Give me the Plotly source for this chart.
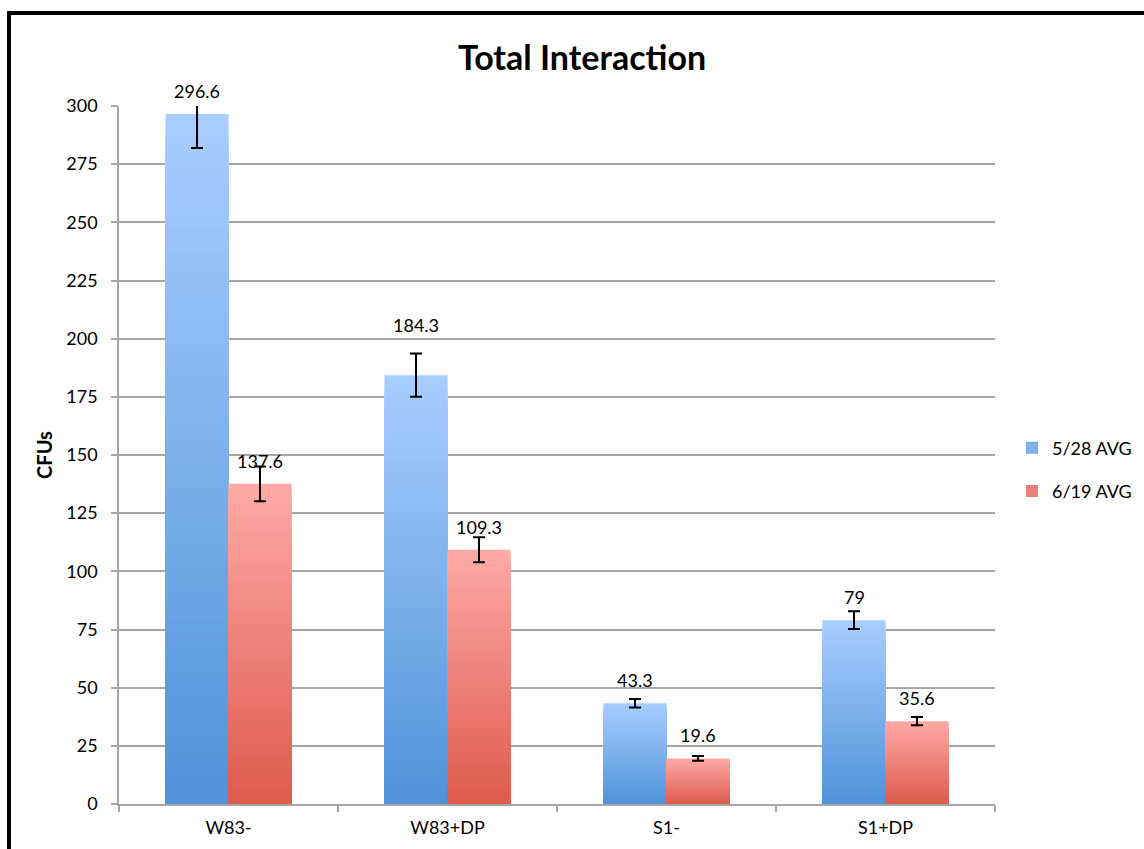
import plotly.graph_objects as go

# ---- data -------------------------------------------------------------
categories = ["W83-", "W83+DP", "S1-", "S1+DP"]
series_names = ["5/28 AVG", "6/19 AVG"]
avg_0528 = [296.6, 184.3, 43.3, 79.0]
avg_0619 = [137.6, 109.3, 19.6, 35.6]
err_0528 = [14.6, 9.3, 1.8, 3.8]
err_0619 = [7.5, 5.4, 1.0, 1.8]
labels_0528 = ["296.6", "184.3", "43.3", "79"]
labels_0619 = ["137.6", "109.3", "19.6", "35.6"]
y_ticks = [0, 25, 50, 75, 100, 125, 150, 175, 200, 225, 250, 275, 300]

# ---- styling ----------------------------------------------------------
FONT = "Lato"
W, H = 1144, 849
M_L, M_R, M_T, M_B = 119, 149, 106, 45
PLOT_W, PLOT_H = W - M_L - M_R, H - M_T - M_B

# vertical gradients (bottom colour, top colour)
gradients = [((79, 147, 217), (169, 205, 255)),
             ((221, 90, 78), (255, 170, 166))]
N_STEPS = 60
# extra lift (px) for individual value labels
label_lift = [[0, 27, 0, 0], [0, 0, 0, 0]]


def mix(c0, c1, t):
    return "rgb({},{},{})".format(*[round(a + (b - a) * t) for a, b in zip(c0, c1)])


def px_x(p):
    return (p - M_L) / PLOT_W


def px_y(p):
    return (M_T + PLOT_H - p) / PLOT_H


fig = go.Figure()

series = [(avg_0528, err_0528, labels_0528), (avg_0619, err_0619, labels_0619)]

for s, (vals, errs, labs) in enumerate(series):
    bottom, top = gradients[s]
    group = f"g{s}"
    # gradient body: nested bars from full height downwards, each one
    # a little darker, so the visible bands form a vertical gradient
    for j in range(N_STEPS):
        frac = (N_STEPS - j) / N_STEPS
        color = mix(bottom, top, (N_STEPS - j - 0.5) / N_STEPS)
        fig.add_trace(go.Bar(
            x=categories,
            y=[v * frac for v in vals],
            offsetgroup=group,
            legendgroup=group,
            name=series_names[s],
            showlegend=(j == N_STEPS // 2),
            marker=dict(color=color, line=dict(width=0)),
            hoverinfo="skip",
        ))
    # full-height bar carrying the error bars and hover values
    fig.add_trace(go.Bar(
        x=categories,
        y=vals,
        offsetgroup=group,
        legendgroup=group,
        name=series_names[s],
        showlegend=False,
        marker=dict(color="rgba(0,0,0,0)", line=dict(width=0)),
        error_y=dict(type="data", array=errs, visible=True,
                     color="black", thickness=2, width=6),
    ))

# value labels above the bars
half = PLOT_W / len(categories) * (1 - 0.425) / 4
for s, (vals, errs, labs) in enumerate(series):
    for i, cat in enumerate(categories):
        fig.add_annotation(
            x=cat, y=vals[i], xref="x", yref="y",
            text=labs[i], showarrow=False,
            xshift=(-half if s == 0 else half),
            yanchor="bottom", yshift=10 + label_lift[s][i],
            font=dict(family=FONT, size=18, color="black"),
        )

# outer black frame as solid strips (right and bottom sides lie off the page)
fig.add_shape(type="rect", xref="paper", yref="paper",
              x0=px_x(7), x1=px_x(W + 10), y0=px_y(15), y1=px_y(11),
              fillcolor="black", line=dict(width=0), layer="above")
fig.add_shape(type="rect", xref="paper", yref="paper",
              x0=px_x(7), x1=px_x(11), y0=px_y(H + 10), y1=px_y(11),
              fillcolor="black", line=dict(width=0), layer="above")

fig.update_layout(
    width=W, height=H,
    margin=dict(l=M_L, r=M_R, t=M_T, b=M_B, autoexpand=False),
    paper_bgcolor="white", plot_bgcolor="white",
    barmode="group", bargap=0.425, bargroupgap=0,
    font=dict(family=FONT, size=18, color="black"),
    title=dict(text="<b>Total Interaction</b>", x=582 / W, xanchor="center",
               y=1 - 58 / H, yanchor="middle",
               font=dict(family=FONT, size=34, color="black")),
    legend=dict(x=px_x(1012), xanchor="left",
                y=px_y(469.5), yanchor="middle",
                font=dict(family=FONT, size=18, color="black"),
                tracegroupgap=17, bgcolor="rgba(0,0,0,0)"),
    showlegend=True,
)

fig.update_xaxes(
    type="category", showgrid=False, showline=True, linecolor="#a6a6a6",
    linewidth=1.5, ticks="outside", tickson="boundaries", ticklen=6,
    tickcolor="#a6a6a6", tickwidth=1.5, ticklabelstandoff=7,
    tickfont=dict(family=FONT, size=18, color="black"),
)
fig.update_yaxes(
    range=[0, 300], tickvals=y_ticks, showgrid=True, gridcolor="#a6a6a6",
    gridwidth=1.5, showline=True, linecolor="#a6a6a6", linewidth=1.5,
    ticks="outside", ticklen=6, tickcolor="#a6a6a6", tickwidth=1.5,
    zeroline=False, ticklabelstandoff=10,
    tickfont=dict(family=FONT, size=18, color="black"),
    title=dict(text="<b>CFUs</b>", standoff=8,
               font=dict(family=FONT, size=20, color="black")),
)

fig.write_html("out.html")
